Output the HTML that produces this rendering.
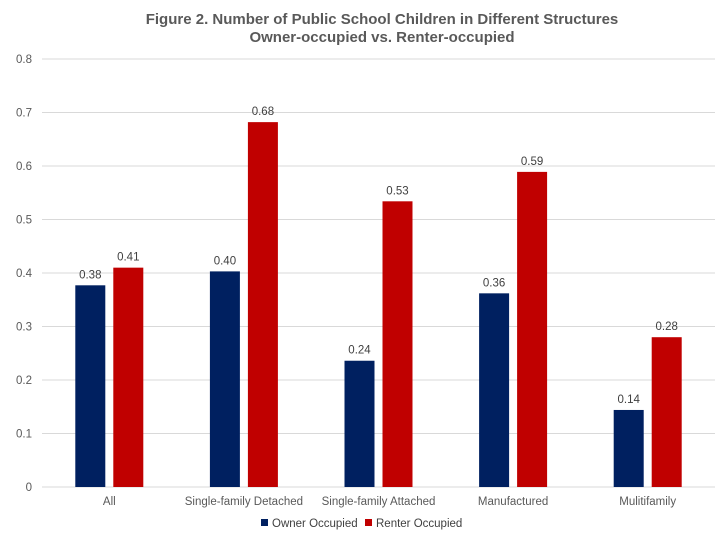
<!DOCTYPE html>
<html><head><meta charset="utf-8"><style>
body{margin:0;background:#fff;font-family:"Liberation Sans",Arial,sans-serif;}
svg{display:block}
</style></head><body>
<svg id="chart" width="720" height="540" xmlns="http://www.w3.org/2000/svg">
<text x="382" y="24" text-anchor="middle" font-size="15" font-weight="bold" fill="#595959">Figure 2. Number of Public School Children in Different Structures</text>
<text x="382" y="42" text-anchor="middle" font-size="15" font-weight="bold" fill="#595959">Owner-occupied vs. Renter-occupied</text>
<g id="grid"></g><g id="bars"></g><g id="labels"></g>
<g>
<rect x="261" y="519" width="7" height="7" fill="#002060"/>
<text x="272" y="527" font-size="11.5" fill="#404040">Owner Occupied</text>
<rect x="365" y="519" width="7" height="7" fill="#C00000"/>
<text x="376" y="527" font-size="11.5" fill="#404040">Renter Occupied</text>
</g>
</svg>
<script>
const categories=["All","Single-family Detached","Single-family Attached","Manufactured","Mulitifamily"];
const ownerValues=[0.377,0.403,0.236,0.362,0.144];
const renterValues=[0.41,0.682,0.534,0.589,0.28];
const yTicks=[0,0.1,0.2,0.3,0.4,0.5,0.6,0.7,0.8];
const NS="http://www.w3.org/2000/svg";
const x0=42,x1=715,y0=487,yTop=59;
const y=v=>y0-(v/0.8)*(y0-yTop);
const bw=(x1-x0)/categories.length;
const cx=i=>x0+bw*(i+0.5);
function mk(tag,attrs,parent){const e=document.createElementNS(NS,tag);for(const k in attrs)e.setAttribute(k,attrs[k]);document.getElementById(parent).appendChild(e);return e;}
yTicks.forEach(t=>{
 const l=mk("line",{x1:x0,x2:x1,y1:y(t),y2:y(t),stroke:"#d9d9d9","stroke-width":1},"grid");
 
 
 const tx=mk("text",{x:32,y:y(t)+4,"text-anchor":"end","font-size":11.5,fill:"#595959"},"grid");
 tx.textContent=t===0?"0":t.toFixed(1);
 
 
});
categories.forEach((c,i)=>{
 const series=[[ownerValues[i],"#002060",-34],[renterValues[i],"#C00000",4]];
 series.forEach(([v,col,off],j)=>{
  const r=mk("rect",{x:cx(i)+off,y:y(v),width:30,height:y0-y(v),fill:col},"bars");
  
  
  const t=mk("text",{x:cx(i)+off+15,y:y(v)-7,"text-anchor":"middle","font-size":11.5,fill:"#404040"},"labels");
  t.textContent=(Math.floor(v*100+0.5)/100).toFixed(2);
  
  
 });
 const cl=mk("text",{x:cx(i),y:505,"text-anchor":"middle","font-size":11.5,fill:"#595959"},"labels");
 cl.textContent=c;
 
 
});
</script>
</body></html>
